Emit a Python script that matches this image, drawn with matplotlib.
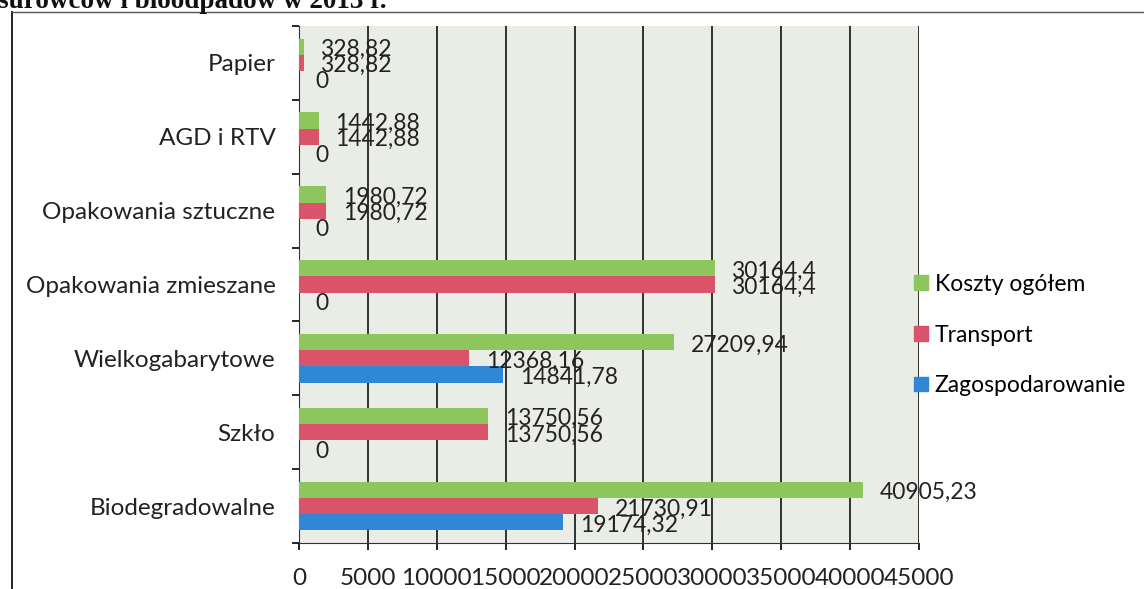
import matplotlib
matplotlib.use("Agg")
from matplotlib import pyplot as plt
from matplotlib.lines import Line2D
from matplotlib.patches import Patch
import numpy as np

# dane z wykresu (od dołu do góry)
categories = ["Biodegradowalne", "Szkło", "Wielkogabarytowe", "Opakowania zmieszane",
              "Opakowania sztuczne", "AGD i RTV", "Papier"]
koszty = [40905.23, 13750.56, 27209.94, 30164.4, 1980.72, 1442.88, 328.82]
transport = [21730.91, 13750.56, 12368.16, 30164.4, 1980.72, 1442.88, 328.82]
zagosp = [19174.32, 0, 14841.78, 0, 0, 0, 0]
xticks = list(range(0, 45001, 5000))

green = "#8cc65c"
red = "#d9536a"
blue = "#2f87d6"

plt.rcParams["font.family"] = ["Lato", "DejaVu Sans"]

fig = plt.figure(figsize=(11.44, 5.89), dpi=100)
fig.patch.set_facecolor("white")
W, H = 1144.0, 589.0
ax = fig.add_axes([299 / W, 1 - 543 / H, 620 / W, 517 / H])
ax.set_facecolor("#e9ede6")

y = np.arange(len(categories))
h = 0.22
ax.barh(y + h, koszty, height=h, color=green, zorder=3, label="Koszty ogółem")
ax.barh(y, transport, height=h, color=red, zorder=3, label="Transport")
ax.barh(y - h, zagosp, height=h, color=blue, zorder=3, label="Zagospodarowanie")


def fmt(v):
    if v == 0:
        return "0"
    return str(v).replace(".", ",")


for vals, off in ((koszty, h), (transport, 0), (zagosp, -h)):
    for yi, v in zip(y, vals):
        ax.annotate(fmt(v), (v, yi + off), xytext=(12, -2), textcoords="offset points",
                    ha="left", va="center", fontsize=16.5, color="#222222", zorder=4)

ax.set_xlim(0, 45000)
ax.set_ylim(-0.5, len(categories) - 0.5)
ax.set_xticks(xticks)
ax.set_xticklabels([str(t) for t in xticks], fontsize=17.5, color="#222222")
ax.tick_params(axis="x", direction="out", length=5, width=1.2, pad=13)
ax.set_yticks(np.arange(len(categories) + 1) - 0.5)
ax.set_yticklabels([])
ax.set_yticks(y, minor=True)
ax.set_yticklabels(categories, minor=True, fontsize=17.5, color="#222222")
ax.tick_params(axis="y", which="major", direction="out", length=5, width=1.2)
ax.tick_params(axis="y", which="minor", length=0, pad=17)

ax.grid(axis="x", color="#111111", linewidth=1.2, zorder=1)
for s in ("top", "right"):
    ax.spines[s].set_visible(False)
ax.spines["left"].set_color("#333333")
ax.spines["bottom"].set_color("#333333")

handles = [Patch(color=green), Patch(color=red), Patch(color=blue)]
fig.legend(handles, ["Koszty ogółem", "Transport", "Zagospodarowanie"],
           loc="center left", bbox_to_anchor=(914 / W, 1 - 335 / H), frameon=False,
           fontsize=16.5, handlelength=0.6, handleheight=0.6, handletextpad=0.3,
           labelspacing=1.3, borderpad=0, borderaxespad=0)

# ramka i obcięty tytuł ze skanu
fig.add_artist(Line2D([12 / W, 12 / W], [0, 1 - 12 / H], color="#111111", linewidth=1.3))
fig.add_artist(Line2D([12 / W, 1], [1 - 12 / H, 1 - 12 / H], color="#555555", linewidth=1.0))
fig.text(-2 / W, 1 - 8 / H, "surowców i bioodpadów w 2013 r.", fontsize=19.5, fontweight="bold",
         family=["Liberation Serif", "DejaVu Serif"], va="baseline", ha="left", color="#111111")

fig.savefig("out.png", dpi=100)
